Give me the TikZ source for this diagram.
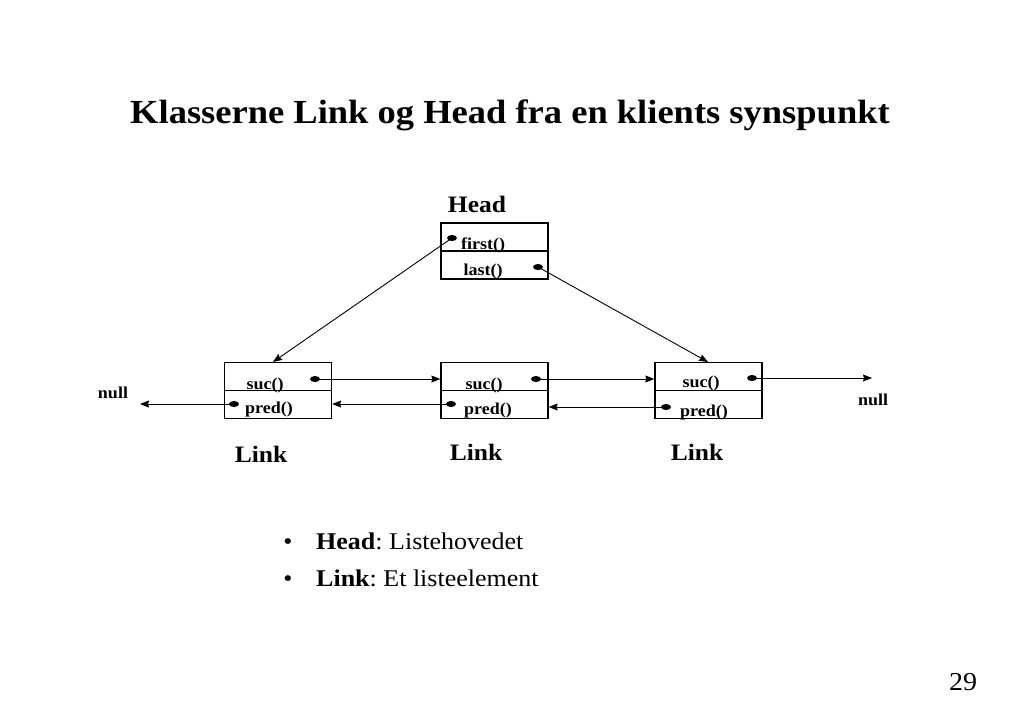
\documentclass[tikz,border=0pt]{standalone}
\usepackage{fontspec}
\usepackage{graphicx}
\setmainfont{Liberation Serif}
\usetikzlibrary{shapes.geometric,arrows.meta}
\frenchspacing
\newcommand{\sq}[1]{\scalebox{1}[0.923]{#1}}
\newcommand{\fs}[1]{\fontsize{#1}{#1}\selectfont}
\tikzset{
  box/.style={draw, line width=1.3pt, minimum width=107pt, minimum height=56pt, inner sep=0pt},
  dot/.style={ellipse, fill=black, minimum width=10pt, minimum height=6pt, inner sep=0pt},
  arr/.style={line width=0.9pt, -{Stealth[length=9pt,width=7pt,inset=1pt]}},
  lbl/.style={anchor=base, inner sep=0pt},
  small/.style={lbl, font=\fs{18}\bfseries},
  big/.style={lbl, font=\fs{25.5}\bfseries},
}
\begin{document}
\begin{tikzpicture}[x=1pt,y=-1pt]
\useasboundingbox (0,0) rectangle (1024,709);
% title
\node[lbl, font=\fs{36.5}\bfseries] (title) at (510,123) {\sq{Klasserne Link og Head fra en klients synspunkt}};
% Head
\node[big] (headlbl) at (477,212) {\sq{Head}};
\node[box] (head) at (494.5,251) {};
\draw[line width=1.2pt] (head.west) -- (head.east);
\node[small] (tfirst) at (483,249) {\sq{first()}};
\node[small] (tlast) at (483,275) {\sq{last()}};
\node[dot] (hf) at (452,238) {};
\node[dot] (hl) at (538,267) {};
% Links
\node[box] (l1) at (278,390.5) {};
\node[box] (l2) at (494.5,390.5) {};
\node[box] (l3) at (708.5,390.5) {};
\draw[line width=1.2pt] (l1.west) -- (l1.east);
\draw[line width=1.2pt] (l2.west) -- (l2.east);
\draw[line width=1.2pt] (l3.west) -- (l3.east);
\node[small] (ts1) at (265,389) {\sq{suc()}};
\node[small] (tp1) at (269,413) {\sq{pred()}};
\node[small] (ts2) at (484,389) {\sq{suc()}};
\node[small] (tp2) at (488,414) {\sq{pred()}};
\node[small] (ts3) at (701,387) {\sq{suc()}};
\node[small] (tp3) at (704,416) {\sq{pred()}};
\node[dot] (s1) at (315,379) {};
\node[dot] (p1) at (234,404) {};
\node[dot] (s2) at (536,379) {};
\node[dot] (p2) at (451,404) {};
\node[dot] (s3) at (752,378) {};
\node[dot] (p3) at (666,407) {};
\node[big] (ll1) at (261,462) {\sq{Link}};
\node[big] (ll2) at (476,460) {\sq{Link}};
\node[big] (ll3) at (697,460) {\sq{Link}};
% null
\node[small] (nullL) at (113,398) {\sq{null}};
\node[small] (nullR) at (873,405) {\sq{null}};
\coordinate (nL) at (140,404);
\coordinate (nR) at (872,378);
\coordinate (l1in) at (273,362);
\coordinate (l3in) at (708,362);
% connectors
\draw[arr] (hf.center) -- (l1in);
\draw[arr] (hl.center) -- (l3in);
\draw[arr] (s1.center) -- (s1 -| l2.west);
\draw[arr] (p2.center) -- (p2 -| l1.east);
\draw[arr] (p1.center) -- (nL);
\draw[arr] (s2.center) -- (s2 -| l3.west);
\draw[arr] (p3.center) -- (p3 -| l2.east);
\draw[arr] (s3.center) -- (nR);
% bullets
\node[lbl, font=\fs{26}] (b1) at (288,549) {\sq{\textbullet}};
\node[lbl, font=\fs{26}, anchor=base west] (t1) at (316,549) {\sq{\textbf{Head}: Listehovedet}};
\node[lbl, font=\fs{26}] (b2) at (288,586) {\sq{\textbullet}};
\node[lbl, font=\fs{26}, anchor=base west] (t2) at (316,586) {\sq{\textbf{Link}: Et listeelement}};
% page number
\node[lbl, font=\fs{28}] (pg) at (963,690) {\sq{29}};
\end{tikzpicture}
\end{document}
